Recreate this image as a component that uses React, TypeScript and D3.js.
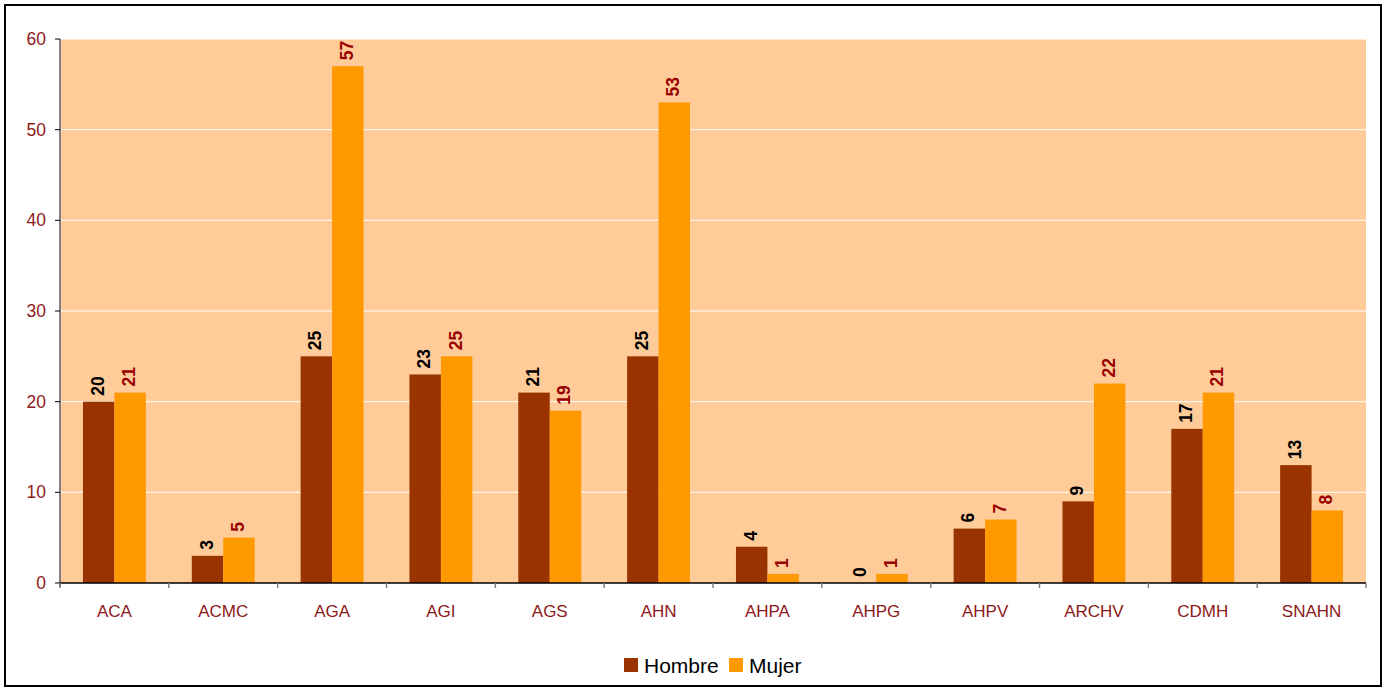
import React from 'react';
import * as d3 from 'd3';

const categories = ['ACA', 'ACMC', 'AGA', 'AGI', 'AGS', 'AHN', 'AHPA', 'AHPG', 'AHPV', 'ARCHV', 'CDMH', 'SNAHN'];
const hombre = [20, 3, 25, 23, 21, 25, 4, 0, 6, 9, 17, 13];
const mujer = [21, 5, 57, 25, 19, 53, 1, 1, 7, 22, 21, 8];
const yTicks = [0, 10, 20, 30, 40, 50, 60];
const seriesNames = ['Hombre', 'Mujer'];

const W = 1390;
const H = 689;
const margin = { top: 39, right: 24, bottom: 106, left: 60 };
const colors = ['#993300', '#FF9900'];
const labelColors = ['#000000', '#990000'];
const tickColor = '#8B1A1A';

const App = () => {
  const x = d3.scaleBand<string>()
    .domain(categories)
    .range([margin.left, W - margin.right]);
  const inner = d3.scaleBand<string>()
    .domain(seriesNames)
    .range([0, x.bandwidth()])
    .paddingInner(0)
    .paddingOuter(0.73);
  const y = d3.scaleLinear()
    .domain([0, 60])
    .range([H - margin.bottom, margin.top]);

  const series = [hombre, mujer];
  const plotW = W - margin.left - margin.right;

  return (
    <svg width={W} height={H} style={{ position: 'absolute', left: 0, top: 0, fontFamily: 'Arial, "Liberation Sans", sans-serif' }}>
      <rect x={0} y={0} width={W} height={H} fill="#fff" />
      <rect x={5} y={5} width={1376} height={681} fill="none" stroke="#000" strokeWidth={2} />
      <rect x={margin.left} y={margin.top} width={plotW} height={y(0) - margin.top} fill="#FFCC99" />
      {yTicks.filter(t => t > 0).map(t => (
        <line key={t} x1={margin.left} x2={W - margin.right} y1={y(t)} y2={y(t)} stroke="#fff" strokeWidth={1} />
      ))}
      {series.map((vals, si) => vals.map((v, i) => {
        const bx = (x(categories[i]) as number) + (inner(seriesNames[si]) as number);
        const bw = inner.bandwidth();
        const by = y(v);
        return (
          <g key={`${si}-${i}`}>
            <rect x={bx} y={by} width={bw} height={y(0) - by} fill={colors[si]} />
            <text
              transform={`translate(${bx + bw / 2 + 5},${by - 6}) rotate(-90)`}
              fontSize={17.5}
              fontWeight="bold"
              fill={labelColors[si]}
            >{v}</text>
          </g>
        );
      }))}
      {/* y axis */}
      <line x1={margin.left} x2={margin.left} y1={margin.top} y2={y(0) + 4} stroke="#808080" strokeWidth={2} />
      {yTicks.map(t => (
        <g key={t}>
          <line x1={margin.left - 5} x2={margin.left} y1={y(t)} y2={y(t)} stroke="#000" strokeWidth={1} />
          <text x={margin.left - 14} y={y(t)} dy="0.35em" textAnchor="end" fontSize={17.5} fill={tickColor}>{t}</text>
        </g>
      ))}
      {/* x axis */}
      <line x1={margin.left} x2={W - margin.right} y1={y(0)} y2={y(0)} stroke="#000" strokeWidth={1.5} />
      {categories.concat(['']).map((c, i) => {
        const tx = margin.left + i * x.step();
        return <line key={`t${i}`} x1={tx} x2={tx} y1={y(0)} y2={y(0) + 5} stroke="#808080" strokeWidth={1.5} />;
      })}
      {categories.map(c => (
        <text key={c} x={(x(c) as number) + x.bandwidth() / 2} y={y(0) + 34} textAnchor="middle" fontSize={17} fill={tickColor}>{c}</text>
      ))}
      {/* legend */}
      {seriesNames.map((s, i) => {
        const lx = i === 0 ? 624 : 729;
        return (
          <g key={s}>
            <rect x={lx} y={658} width={14} height={14} fill={colors[i]} />
            <text x={lx + 20} y={673} fontSize={21} fill="#000">{s}</text>
          </g>
        );
      })}
    </svg>
  );
};

export default App;
